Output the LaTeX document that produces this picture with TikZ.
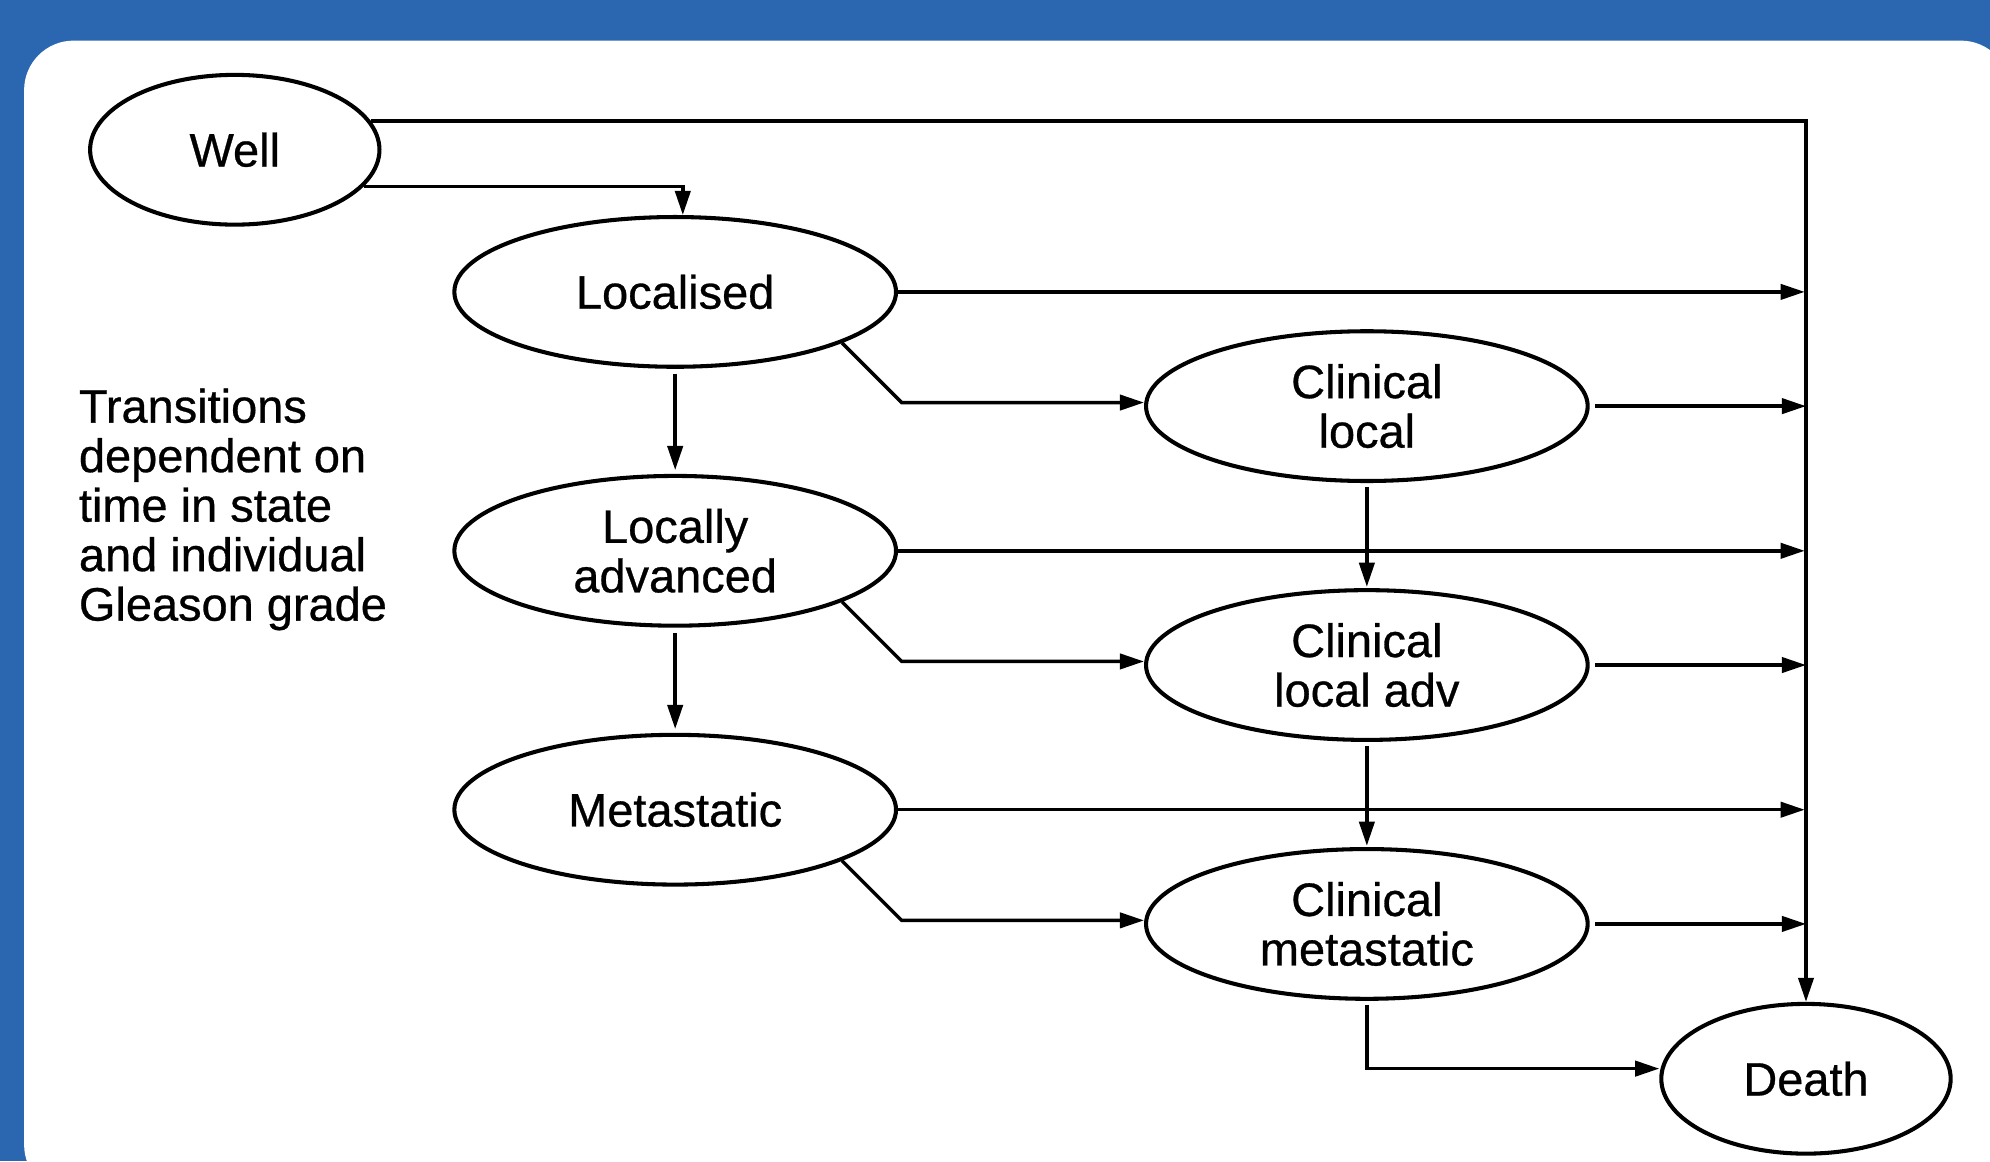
\documentclass[tikz,border=0pt]{standalone}
\usepackage{fontspec}
\setmainfont[FakeBold=0.6]{Liberation Sans}
\usetikzlibrary{shapes.geometric,arrows.meta}
\definecolor{frameblue}{RGB}{43,102,176}

\begin{document}
\begin{tikzpicture}[x=1pt,y=-1pt,
  state/.style={draw, ellipse, line width=3.2pt, minimum width=348pt, minimum height=118pt, inner sep=0pt, align=center, font=\fontsize{37}{39}\selectfont},
  endstate/.style={state, minimum width=228pt},
  arr/.style={line width=2.7pt, -{Triangle[length=19pt,width=12pt]}}]
\useasboundingbox (0,0) rectangle (1568,915);
\fill[frameblue] (0,0) rectangle (1568,915);
\fill[white, rounded corners=39pt] (19,32) rectangle (1584,941);
\node[endstate] (well) at (185,118) {Well};
\node[state] (loc) at (532,230) {Localised};
\node[state] (locadv) at (532,434) {Locally\\advanced};
\node[state] (met) at (532,638) {Metastatic};
\node[state] (cloc) at (1077,320) {Clinical\\local};
\node[state] (clocadv) at (1077,524) {Clinical\\local adv};
\node[state] (cmet) at (1077,728) {Clinical\\metastatic};
\node[endstate] (death) at (1423,850) {Death};
\node[anchor=north west, inner sep=0pt, align=left, font=\fontsize{37}{39}\selectfont] (note) at (62,306) {Transitions\\dependent on\\time in state\\and individual\\Gleason grade};
\draw[arr] (well.12) -| (death.north);
\draw[arr] (well.-16) -| ([xshift=6pt]loc.north);
\draw[arr, shorten >=1pt] (loc.east) -- (loc.east -| death.north);
\draw[arr, shorten >=1pt] (locadv.east) -- (locadv.east -| death.north);
\draw[arr, shorten >=1pt] (met.east) -- (met.east -| death.north);
\draw[arr, shorten <=4pt] (cloc.east) -- (cloc.east -| death.north);
\draw[arr, shorten <=4pt] (clocadv.east) -- (clocadv.east -| death.north);
\draw[arr, shorten <=4pt] (cmet.east) -- (cmet.east -| death.north);
\draw[arr, shorten <=4pt, shorten >=3pt] (loc.south) -- (locadv.north);
\draw[arr, shorten <=4pt, shorten >=3pt] (locadv.south) -- (met.north);
\draw[arr, shorten <=3pt, shorten >=1pt] (cloc.south) -- (clocadv.north);
\draw[arr, shorten <=3pt, shorten >=1pt] (clocadv.south) -- (cmet.north);
\draw[arr] (loc.-17) -- ++(47,47) coordinate (k1) -- (k1 -| cloc.west);
\draw[arr] (locadv.-17) -- ++(47,47) coordinate (k2) -- (k2 -| clocadv.west);
\draw[arr] (met.-17) -- ++(47,47) coordinate (k3) -- (k3 -| cmet.west);
\draw[arr, shorten <=3pt] (cmet.south) |- ([yshift=8pt]death.west);
\end{tikzpicture}
\end{document}
